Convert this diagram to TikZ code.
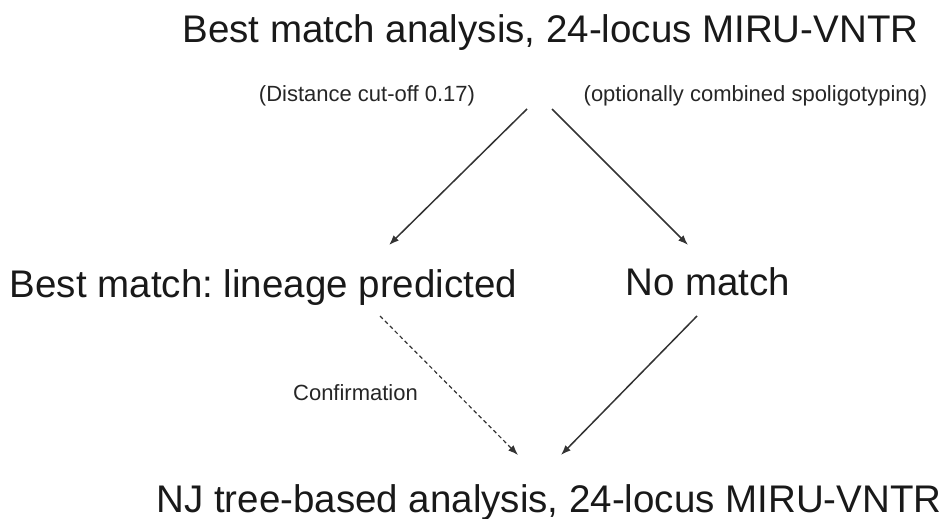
\documentclass[tikz,border=0pt]{standalone}
\usepackage{fontspec}
\setmainfont{Liberation Sans}
\usetikzlibrary{arrows.meta}
\frenchspacing
\tikzset{
  big/.style={font=\fontsize{38.5}{40}\selectfont, text=black!90, inner sep=0pt, anchor=base},
  small/.style={font=\fontsize{22}{24}\selectfont, text=black!85, inner sep=0pt, anchor=base},
  arr/.style={draw=black!80, line width=1.5pt, -{Latex[length=10pt,width=7.5pt]}},
  darr/.style={arr, line width=1.2pt, dash pattern=on 4pt off 3pt}
}
\begin{document}
\begin{tikzpicture}[x=1pt,y=-1pt]
  \useasboundingbox (0,0) rectangle (945,519);
  % stage labels
  \node[big] (top) at (550.5,43) {Best match analysis, 24-locus MIRU-VNTR};
  \node[small] (cut) at (367,101) {(Distance cut-off 0.17)};
  \node[small] (spo) at (755.5,101) {(optionally combined spoligotyping)};
  \node[big] (best) at (263.5,297) {Best match: lineage predicted};
  \node[big] (none) at (708,295) {No match};
  \node[small] (conf) at (355.5,400) {Confirmation};
  \node[big] (nj) at (549,512) {NJ tree-based analysis, 24-locus MIRU-VNTR};
  % connector end points
  \coordinate (topL) at (527,109);
  \coordinate (topR) at (552,109);
  \coordinate (bestIn) at (389,245);
  \coordinate (noneIn) at (688,245);
  \coordinate (bestOut) at (380,316);
  \coordinate (noneOut) at (697,316);
  \coordinate (njL) at (518,455);
  \coordinate (njR) at (561,455);
  % connectors
  \draw[arr] (topL) -- (bestIn);
  \draw[arr] (topR) -- (noneIn);
  \draw[darr] (bestOut) -- (njL);
  \draw[arr] (noneOut) -- (njR);
\end{tikzpicture}
\end{document}
